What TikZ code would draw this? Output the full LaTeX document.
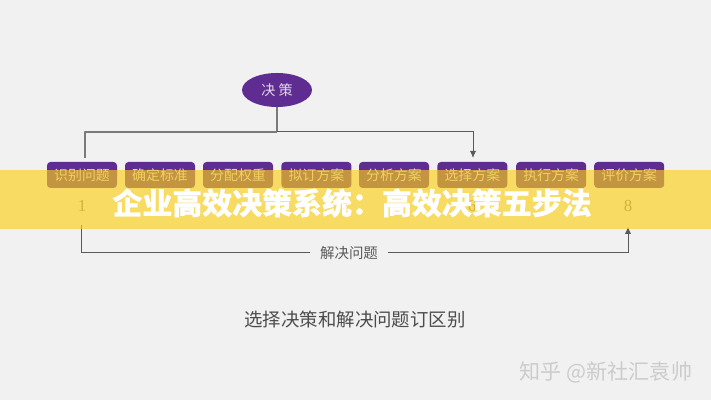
\documentclass[tikz,border=0pt]{standalone}
\usepackage{fontspec}
\usepackage{xcolor}
\usepackage{tikz}
\usetikzlibrary{arrows.meta}
\usetikzlibrary{shapes.geometric}
\setmainfont{Noto Sans CJK SC}
\newfontfamily\digitfont{Liberation Serif}
\definecolor{pagegray}{HTML}{F1F1F1}
\definecolor{stepviolet}{HTML}{5F2D91}
\definecolor{linegray}{HTML}{5A5A5A}
\definecolor{bannergold}{HTML}{FCD014}
\tikzset{
  stepbox/.style={draw=none, fill=stepviolet, rounded corners=2.5pt, minimum width=1.75cm, minimum height=.65cm, inner sep=0pt, text=stepviolet!22!white, font=\fontsize{9.9pt}{11pt}\selectfont},
  topic/.style={ellipse, fill=stepviolet, minimum width=1.75cm, minimum height=.85cm, inner sep=0pt, text=stepviolet!18!white, font=\fontsize{10pt}{11pt}\selectfont},
  order/.style={text=black!50, inner sep=0pt, font=\digitfont\fontsize{12pt}{13pt}\selectfont},
  link/.style={draw=linegray, line width=.7pt},
  fade/.style={draw=black!52, line width=.9pt},
  tip/.style={-{Latex[length=5pt,width=4.5pt]}},
  plain/.style={text=black!70, inner sep=0pt, font=\fontsize{13.1pt}{15pt}\selectfont}
}
\begin{document}
\begin{tikzpicture}
  \fill [pagegray] (0,0) rectangle (17.775,10);
  \node [topic] (decide) at (6.925,7.75) {决 策};
  \node [stepbox] (identify) at (2.05,5.625) {识别问题};
  \node [stepbox] (criteria) at (4,5.625) {确定标准};
  \node [stepbox] (weights) at (5.95,5.625) {分配权重};
  \node [stepbox] (draft) at (7.91,5.625) {拟订方案};
  \node [stepbox] (analyse) at (9.85,5.625) {分析方案};
  \node [stepbox] (choose) at (11.81,5.625) {选择方案};
  \node [stepbox] (execute) at (13.78,5.625) {执行方案};
  \node [stepbox] (review) at (15.73,5.625) {评价方案};
  \node [order] (first) at (2.05,4.85) {1};
  \node [order] (sixth) at (11.8,4.85) {6};
  \node [order] (last) at (15.7,4.85) {8};
  \node [font=\fontsize{10.3pt}{12pt}\selectfont, text=black!65, inner xsep=7pt, inner ysep=0pt] (solve) at (8.725,3.675) {解决问题};
  \node [plain] (caption) at (8.875,2.02) {选择决策和解决问题订区别};
  \node [text=black!20, inner sep=0pt, font=\fontsize{15pt}{17pt}\selectfont] (mark) at (15.15,.7) {知乎 @新社汇袁帅};
  \coordinate (branch) at (6.925,6.7);
  \coordinate (leftturn) at (2.125,6.7);
  \coordinate (leftdrop) at (2.125,6.05);
  \coordinate (rightturn) at (11.825,6.7);
  \coordinate (rightdrop) at (11.825,6.05);
  \coordinate (loopstart) at (2.025,4.375);
  \coordinate (loopend) at (15.7,4.33);
  \draw [fade] (decide) -- (branch);
  \draw [fade, line join=round] (leftdrop) -- (leftturn) -- (branch);
  \draw [link, tip] (branch) -- (rightturn) -- (rightdrop);
  \draw [link] (loopstart) |- (solve);
  \draw [link, tip] (solve) -| (loopend);
  \fill [bannergold, opacity=.64] (0,4.275) rectangle (17.775,5.75);
  \node [text=white, inner sep=0pt, font=\bfseries\addfontfeature{FakeBold=.4}\fontsize{21.3pt}{24pt}\selectfont] (title) at (8.8,4.925) {企业高效决策系统\symbol{"FF1A}高效决策五步法};
\end{tikzpicture}
\end{document}
